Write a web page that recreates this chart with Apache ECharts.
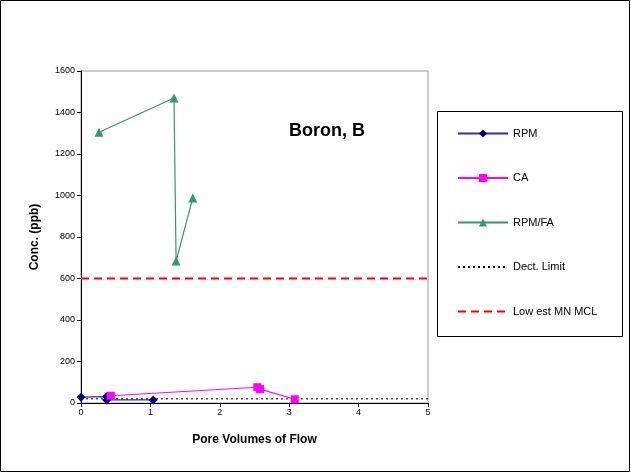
<!DOCTYPE html>
<html><head><meta charset="utf-8">
<script src="https://cdn.jsdelivr.net/npm/echarts@6/dist/echarts.min.js"></script>
<style>html,body{margin:0;padding:0;background:#fff}#c{width:631px;height:473px}</style>
</head><body><div id="c"></div>
<script>
var rpm = [[0, 28], [0.37, 31], [0.37, 15], [1.04, 15]];
var ca = [[0.43, 35], [2.54, 76], [2.58, 67], [3.08, 18]];
var rpmfa = [[0.26, 1305], [1.34, 1470], [1.37, 684], [1.61, 988]];
var dectLimit = 20;
var mcl = 600;
var xRange = [0, 5];
var yRange = [0, 1600];

var font = 'Liberation Sans, Arial, sans-serif';
var chart = echarts.init(document.getElementById('c'));
chart.setOption({
  animation: false,
  backgroundColor: '#fff',
  grid: {left: 81, top: 71, width: 347, height: 332, show: true, borderColor: '#999', borderWidth: 1},
  title: {text: 'Boron, B', left: 289, top: 122, padding: 0, textStyle: {fontFamily: font, fontSize: 18, fontWeight: 'bold', color: '#000'}},
  xAxis: {type: 'value', min: xRange[0], max: xRange[1], interval: 1,
    name: 'Pore Volumes of Flow', nameLocation: 'middle', nameGap: 31,
    nameTextStyle: {fontFamily: font, fontSize: 12, fontWeight: 'bold', color: '#000'},
    axisLine: {lineStyle: {color: '#000', width: 1}},
    axisTick: {show: true, inside: false, length: 4, lineStyle: {color: '#000'}},
    axisLabel: {fontFamily: font, fontSize: 9, color: '#000', margin: 5, formatter: function (v) { return String(v); }},
    splitLine: {show: false}},
  yAxis: {type: 'value', min: yRange[0], max: yRange[1], interval: 200,
    name: 'Conc. (ppb)', nameLocation: 'middle', nameGap: 40, nameRotate: 90,
    nameTextStyle: {fontFamily: font, fontSize: 12, fontWeight: 'bold', color: '#000'},
    axisLine: {show: true, lineStyle: {color: '#000', width: 1}},
    axisTick: {show: true, inside: false, length: 4, lineStyle: {color: '#000'}},
    axisLabel: {fontFamily: font, fontSize: 9, color: '#000', margin: 6, formatter: function (v) { return String(v); }},
    splitLine: {show: false}},
  legend: {orient: 'vertical', left: 457, top: 128, padding: 0, itemWidth: 50, itemHeight: 10, itemGap: 34.5 - 1,
    textStyle: {fontFamily: font, fontSize: 11, color: '#000'},
    data: ['RPM', 'CA', 'RPM/FA',
      {name: 'Dect. Limit', itemStyle: {opacity: 0}},
      {name: 'Low est MN MCL', itemStyle: {opacity: 0}}]},
  graphic: [
    {type: 'rect', shape: {x: 0.5, y: 0.5, width: 629, height: 471}, style: {fill: null, stroke: '#000', lineWidth: 1}, silent: true, z: -1},
    {type: 'rect', shape: {x: 437.5, y: 111.5, width: 185, height: 225}, style: {fill: null, stroke: '#000', lineWidth: 1}, silent: true}
  ],
  series: [
    {name: 'RPM', type: 'line', data: rpm, symbol: 'diamond', symbolSize: 9, color: '#000080',
      lineStyle: {color: '#333399', width: 1.2}, itemStyle: {color: '#000080'}},
    {name: 'CA', type: 'line', data: ca, symbol: 'rect', symbolSize: 8, color: '#ff00ff',
      lineStyle: {color: '#ff00ff', width: 1.2}, itemStyle: {color: '#ff00ff'}},
    {name: 'RPM/FA', type: 'line', data: rpmfa, symbol: 'triangle', symbolSize: 9, color: '#339966',
      lineStyle: {color: '#339966', width: 1.2}, itemStyle: {color: '#339966'}},
    {name: 'Dect. Limit', type: 'line', data: [[xRange[0], dectLimit], [xRange[1], dectLimit]], symbol: 'none', color: '#000',
      lineStyle: {color: '#000', width: 1, type: [2, 3]}},
    {name: 'Low est MN MCL', type: 'line', data: [[xRange[0], mcl], [xRange[1], mcl]], symbol: 'none', color: '#ff0000',
      lineStyle: {color: '#ff0000', width: 2, type: [8, 5]}}
  ]
});
</script></body></html>
